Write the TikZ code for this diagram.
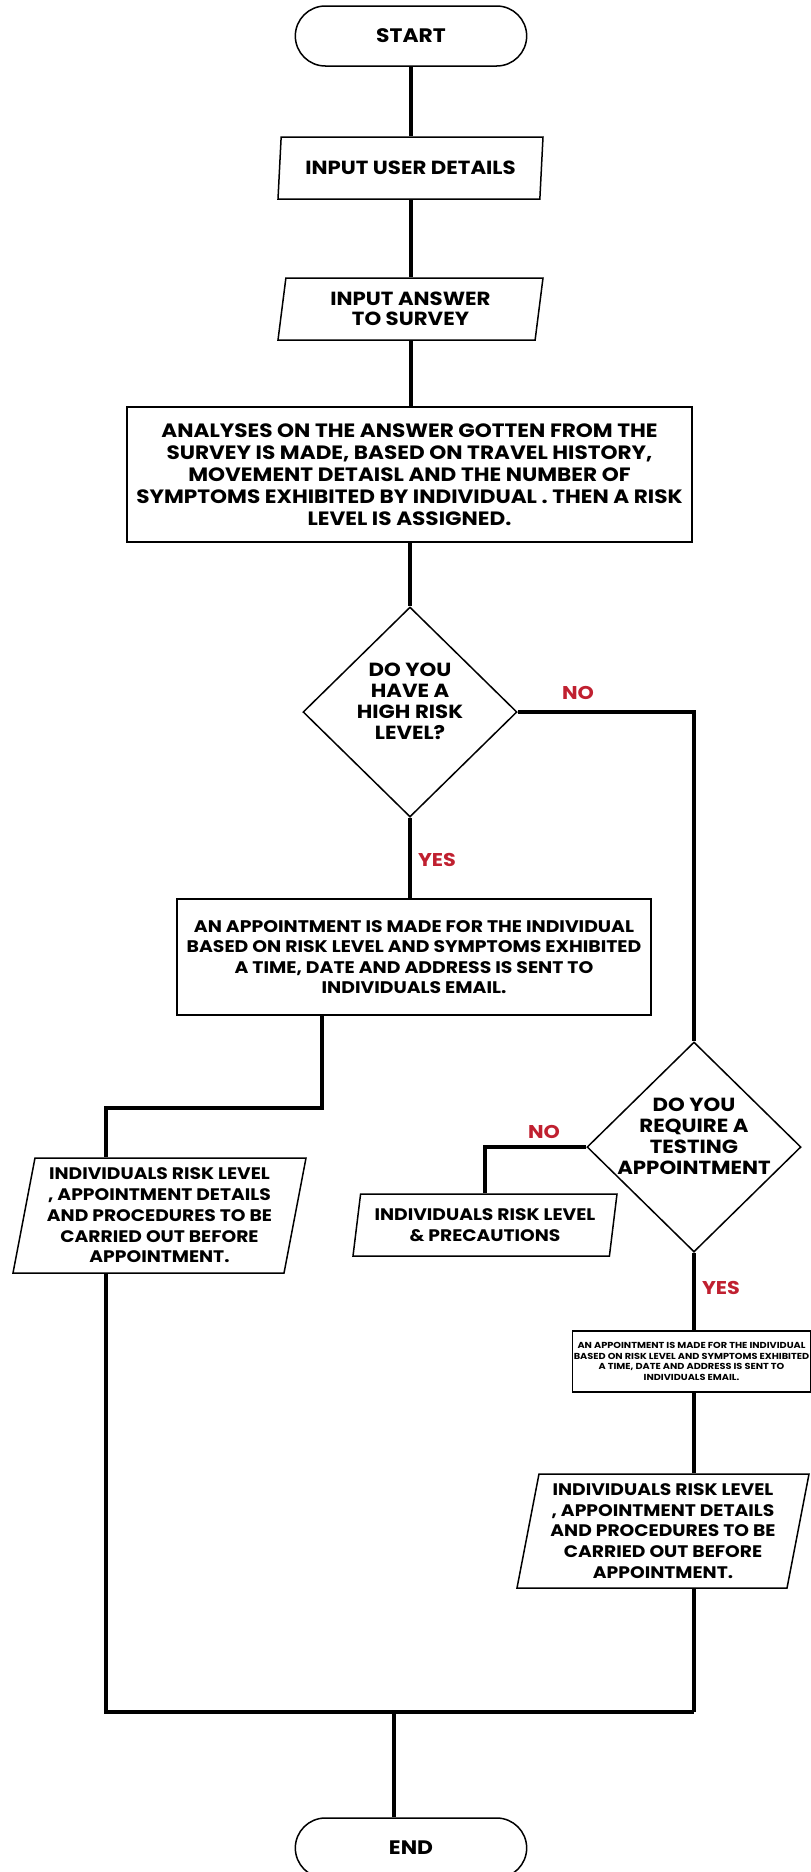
\documentclass[tikz,border=0pt]{standalone}
\usepackage{fontspec}
\setmainfont{Poppins}[FakeStretch=1.12]
\usepackage{tikz}
\usetikzlibrary{shapes.geometric,shapes.misc}
\definecolor{answerred}{RGB}{192,32,48}
\newcommand{\inputfont}{\fontsize{19}{20.5}\selectfont\bfseries}
\newcommand{\boxfont}{\fontsize{16.8}{20.5}\selectfont\bfseries}
\newcommand{\infofont}{\fontsize{16.7}{20.8}\selectfont\bfseries}
\newcommand{\wideboxfont}{\fontsize{19.3}{22}\selectfont\bfseries}
\newcommand{\askfont}{\fontsize{19}{21}\selectfont\bfseries}
\newcommand{\smallboxfont}{\fontsize{8.7}{10.7}\selectfont\bfseries}

\tikzset{
  terminal/.style={draw,line width=1.5,rounded rectangle,minimum width=238,minimum height=60,font=\fontsize{19.5}{22}\selectfont\bfseries},
  io/.style={draw,line width=1.5,fill=white,trapezium,trapezium left angle=77,trapezium right angle=103,trapezium stretches body,align=center,inner sep=0},
  process/.style={draw,line width=1.5,fill=white,rectangle,align=center,inner sep=0},
  decision/.style={draw,line width=1.5,fill=white,diamond,minimum width=214,minimum height=210,inner sep=0,align=center,font=\askfont},
  flow/.style={line width=4},
  answer/.style={text=answerred,font=\fontsize{18.5}{20}\selectfont\bfseries}
}

\begin{document}
\begin{tikzpicture}[x=1pt,y=-1pt]
  \useasboundingbox (0,0) rectangle (811,1872);

  % main column
  \node[terminal] (start) at (411,36) {START};
  \node[io,minimum width=265,minimum height=62,font=\inputfont] (user) at (410.5,168) {INPUT USER DETAILS};
  \node[io,minimum width=265,minimum height=62,font=\inputfont] (answer) at (410.5,309) {INPUT ANSWER\\ TO SURVEY};
  \node[process,minimum width=565,minimum height=135,font=\wideboxfont] (analyse) at (409.5,474.5)
    {ANALYSES ON THE ANSWER GOTTEN FROM THE\\ SURVEY IS MADE, BASED ON TRAVEL HISTORY,\\ MOVEMENT DETAISL AND THE NUMBER OF\\ SYMPTOMS EXHIBITED BY INDIVIDUAL . THEN A RISK\\ LEVEL IS ASSIGNED.};
  \node[decision] (highrisk) at (410,712) {DO YOU\\ HAVE A\\ HIGH RISK\\ LEVEL?\\ \mbox{}};
  \node[process,minimum width=474,minimum height=116,font=\boxfont] (appoint) at (414,957)
    {AN APPOINTMENT IS MADE FOR THE INDIVIDUAL\\ BASED ON RISK LEVEL AND SYMPTOMS EXHIBITED\\ A TIME, DATE AND ADDRESS IS SENT TO\\ INDIVIDUALS EMAIL.};
  \node[io,minimum width=293,minimum height=115,font=\infofont] (infoleft) at (159.5,1215.5)
    {INDIVIDUALS RISK LEVEL\\ , APPOINTMENT DETAILS\\ AND PROCEDURES TO BE\\ CARRIED OUT BEFORE\\ APPOINTMENT.};

  % right branch
  \node[decision] (testing) at (694,1147) {DO YOU\\ REQUIRE A\\ TESTING\\ \makebox[0pt]{APPOINTMENT}\\ \mbox{}};
  \node[io,minimum width=264,minimum height=62,font=\infofont] (precaution) at (485,1225)
    {INDIVIDUALS RISK LEVEL\\ \& PRECAUTIONS};
  \node[process,minimum width=238,minimum height=61,font=\smallboxfont] (appointsmall) at (691.5,1361.5)
    {AN APPOINTMENT IS MADE FOR THE INDIVIDUAL\\ BASED ON RISK LEVEL AND SYMPTOMS EXHIBITED\\ A TIME, DATE AND ADDRESS IS SENT TO\\ INDIVIDUALS EMAIL.};
  \node[io,minimum width=292,minimum height=114,font=\infofont] (inforight) at (663,1531)
    {INDIVIDUALS RISK LEVEL\\ , APPOINTMENT DETAILS\\ AND PROCEDURES TO BE\\ CARRIED OUT BEFORE\\ APPOINTMENT.};

  \node[terminal] (end) at (411,1848) {END};

  % bends of the connectors
  \coordinate (elbowL) at (106,1108);
  \coordinate (mergeL) at (106,1712);
  \coordinate (mergeR) at (694,1712);
  \coordinate (mergeC) at (394,1712);

  \draw[flow] (start.south) -- (start.south |- user.north);
  \draw[flow] (start.south |- user.south) -- (start.south |- answer.north);
  \draw[flow] (start.south |- answer.south) -- (start.south |- analyse.north);
  \draw[flow] (highrisk.north |- analyse.south) -- (highrisk.north);
  \draw[flow] (highrisk.east) -| (testing.north);
  \draw[flow] (highrisk.south) -- (highrisk.south |- appoint.north);
  \draw[flow] ([xshift=-92]appoint.south) |- (elbowL) -- (elbowL |- infoleft.north);
  \draw[flow] (elbowL |- infoleft.south) -- (mergeL) -- (mergeR);
  \draw[flow] (testing.west) -| (precaution.north);
  \draw[flow] (testing.south) -- (testing.south |- appointsmall.north);
  \draw[flow] (testing.south |- appointsmall.south) -- (testing.south |- inforight.north);
  \draw[flow] (testing.south |- inforight.south) -- (mergeR);
  \draw[line width=3.5] (mergeC) -- (end.north -| mergeC);

  % answer labels
  \node[answer] (no1) at (578,693) {NO};
  \node[answer] (yes1) at (437,860) {YES};
  \node[answer] (no2) at (544,1132) {NO};
  \node[answer] (yes2) at (721,1288) {YES};
\end{tikzpicture}
\end{document}
